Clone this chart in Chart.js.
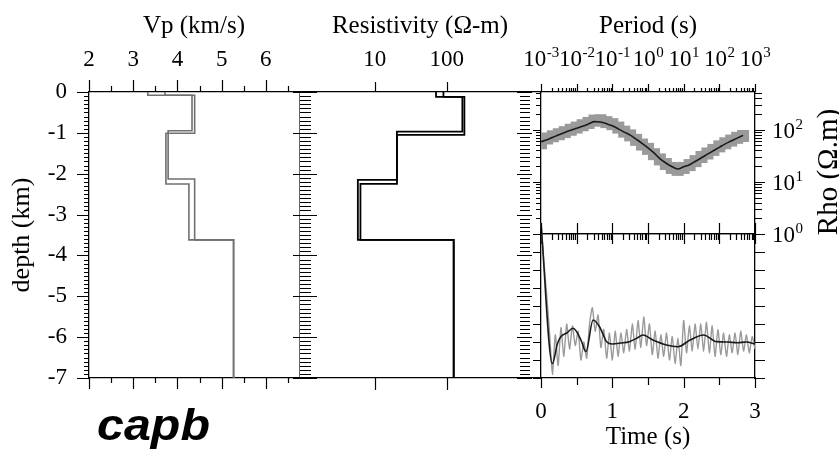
<!DOCTYPE html>
<html lang="en">
<head>
<meta charset="utf-8">
<title>capb</title>
<script src="https://cdn.jsdelivr.net/npm/chart.js@4.4.1/dist/chart.umd.min.js"></script>
<style>
  body { margin: 0; background: #fff; }
  #figura { position: relative; width: 839px; height: 450px; background: #fff; overflow: hidden; }
  #figura canvas { position: absolute; left: 0; top: 0; }
  #rotulo { position: absolute; left: 97px; top: 403px; font: italic bold 44px "Liberation Sans", Arial, sans-serif;
            line-height: 1; transform: scaleX(1.1); transform-origin: left top; color: #000; }
</style>
</head>
<body>
<div id="figura">
  <canvas id="graficoVp" width="839" height="450"></canvas>
  <canvas id="graficoRes" width="839" height="450"></canvas>
  <canvas id="graficoRho" width="839" height="450"></canvas>
  <canvas id="graficoRF" width="839" height="450"></canvas>
  <div id="rotulo">capb</div>
</div>
<script>
// ---- valores ----
// velocidade P (km/s) por camada e base da camada (km)
const vpModeloA = [3.33, 4.39, 3.74, 4.26, 5.27];
const vpBaseA   = [0.08, 1.01, 2.25, 3.62, 7];
const vpModeloB = [3.72, 4.33, 3.79, 4.39, 5.27];
const vpBaseB   = [0.08, 0.95, 2.13, 3.62, 7];

// resistividade (ohm-m) por camada
const resModeloA = [71, 176, 20.3, 6.3, 125];
const resBaseA   = [0.12, 1.05, 2.25, 3.62, 7];
const resModeloB = [90, 165, 20.3, 5.8, 125];
const resBaseB   = [0.12, 0.97, 2.15, 3.62, 7];
const rotulosRes = [10, 100];

// resistividade aparente x periodo
const periodos = [0.001, 0.00147, 0.00215, 0.00316, 0.00464, 0.00681, 0.01, 0.0147, 0.0215, 0.0316, 0.0464, 0.0681,
                  0.1, 0.147, 0.215, 0.316, 0.464, 0.681, 1, 1.47, 2.15, 3.16, 4.64, 6.81,
                  10, 14.7, 21.5, 31.6, 46.4, 68.1, 100, 147, 215, 316, 464];
const rhoObservado = [55, 68, 75, 82, 90, 100, 110, 122, 135, 150, 152, 140, 128, 110, 92, 78, 64, 52,
                      43, 34, 27, 22, 18.5, 17, 18.5, 21, 25, 30, 35, 41, 48, 55, 62, 70, 76];
const rhoModelo = [59, 64, 72, 80, 89, 98, 107, 117, 129, 143, 141, 131, 119, 104, 90, 79, 66, 55,
                   45, 36, 28, 23, 19.7, 17.7, 19.5, 21.4, 24.9, 29, 34, 39.6, 46, 53.6, 60.8, 69, 78];
const expoentesPeriodo = [-3, -2, -1, 0, 1, 2, 3];
const expoentesRho = [0, 1, 2];

// funcao do receptor
const tempoModelo = [0, 0.16, 0.23, 0.28, 0.36, 0.45, 0.56, 0.63, 0.73, 0.82, 0.92, 1.0, 1.12, 1.24, 1.34,
                     1.43, 1.57, 1.76, 1.92, 2.09, 2.28, 2.46, 2.62, 2.75, 2.88, 3.0];
const rfModelo = [0.66, -0.12, -0.01, 0.03, 0.05, 0.076, 0.011, -0.054, 0.122, 0.085, 0.002, -0.011, -0.006,
                  0.002, 0.02, 0.039, 0.011, -0.017, -0.026, 0.011, 0.039, 0.002, 0.0, -0.004, 0.0, -0.011];
const rfPasso = 0.04;
const rfObservado = [0.66, 0.45, 0.26, 0.05, -0.18, 0.04, -0.13, 0.08, -0.08, 0.1, -0.04, 0.09, -0.02, 0.06,
                     -0.1, 0.0, -0.09, 0.1, 0.19, 0.06, 0.15, -0.03, 0.07, -0.09, 0.05, -0.1, 0.06, -0.08,
                     0.05, -0.06, 0.07, -0.05, 0.1, -0.04, 0.12, -0.03, 0.14, -0.02, 0.1, -0.07, 0.06, -0.09,
                     0.04, -0.08, 0.05, -0.1, 0.03, -0.12, 0.02, -0.13, 0.12, -0.06, 0.09, -0.05, 0.1, -0.04,
                     0.1, -0.05, 0.11, -0.06, 0.09, -0.08, 0.07, -0.07, 0.05, -0.08, 0.04, -0.06, 0.05, -0.07,
                     0.06, -0.05, 0.04, -0.06, 0.03, -0.04];

// ---- auxiliares ----
Chart.defaults.font.family = '"Liberation Serif", "Times New Roman", serif';
Chart.defaults.color = '#000';

const fonteSerif = '"Liberation Serif", "Times New Roman", serif';
const tamRotulo = 23;

function degraus(valores, bases){
    const pontos = [];
    let topo = 0;
    valores.forEach((v, i) => {
        pontos.push({x: v, y: -topo});
        pontos.push({x: v, y: -bases[i]});
        topo = bases[i];
    });
    return pontos;
}

function passos(ini, fim, passo){
    const r = [];
    for(let v = ini; v <= fim + 1e-9; v += passo){
        r.push(+v.toFixed(4));
    }
    return r;
}

function menoresLog(e0, e1, max){
    const r = [];
    for(let e = e0; e < e1; e++){
        for(let m = 2; m <= 9; m++){
            const v = m * Math.pow(10, e);
            if(v <= max) r.push(v);
        }
    }
    return r;
}

function tamanho(px){
    return (escala) => {
        if(escala.isHorizontal()) escala.height = px;
        else escala.width = px;
    };
}

// eixo so com a linha de borda
function eixoVazio(extra){
    return Object.assign({
        ticks: {display: false},
        grid: {display: false},
        border: {color: '#000', width: 1.3}
    }, extra);
}

// marcas de escala desenhadas a partir das escalas do grafico
function tracos(lista){
    return {
        id: 'tracos',
        afterDraw(chart){
            const ctx = chart.ctx;
            const area = chart.chartArea;
            ctx.save();
            ctx.strokeStyle = '#000';
            ctx.lineWidth = 1.2;
            ctx.beginPath();
            lista.forEach(m => {
                const escala = chart.scales[m.escala];
                m.valores.forEach(v => {
                    const p = Math.round(escala.getPixelForValue(v)) + 0.5;
                    if(escala.isHorizontal()){
                        const base = m.lado === 'top' ? area.top : area.bottom;
                        ctx.moveTo(p, base + m.de);
                        ctx.lineTo(p, base + m.ate);
                    }else{
                        const base = m.lado === 'left' ? area.left : area.right;
                        ctx.moveTo(base + m.de, p);
                        ctx.lineTo(base + m.ate, p);
                    }
                });
            });
            ctx.stroke();
            ctx.restore();
        }
    };
}

function potencia(ctx, expoente, x, y, alinhar){
    ctx.font = tamRotulo + 'px ' + fonteSerif;
    const wBase = ctx.measureText('10').width;
    ctx.font = '15px ' + fonteSerif;
    const wExp = ctx.measureText(String(expoente)).width;
    let x0 = x;
    if(alinhar === 'center') x0 = x - (wBase + wExp) / 2;
    ctx.textAlign = 'left';
    ctx.textBaseline = 'alphabetic';
    ctx.font = tamRotulo + 'px ' + fonteSerif;
    ctx.fillText('10', x0, y);
    ctx.font = '15px ' + fonteSerif;
    ctx.fillText(String(expoente), x0 + wBase + 0.5, y - 9);
}

const rotulosLog = {
    id: 'rotulosLog',
    afterDraw(chart){
        const ctx = chart.ctx;
        const sx = chart.scales.x;
        const sy = chart.scales.y2;
        ctx.save();
        ctx.fillStyle = '#000';
        expoentesPeriodo.forEach(e => {
            potencia(ctx, e, sx.getPixelForValue(Math.pow(10, e)), 66, 'center');
        });
        expoentesRho.forEach(e => {
            potencia(ctx, e, chart.chartArea.right + 17, sy.getPixelForValue(Math.pow(10, e)) + 8, 'left');
        });
        ctx.translate(829, 172);
        ctx.rotate(-Math.PI / 2);
        ctx.textAlign = 'center';
        ctx.textBaseline = 'middle';
        ctx.font = '29px ' + fonteSerif;
        ctx.fillText('Rho (\u03A9.m)', 0, 0);
        ctx.restore();
    }
};

const base = {
    responsive: false,
    animation: false,
    devicePixelRatio: 1,
    layout: {padding: 0},
    plugins: {legend: {display: false}, tooltip: {enabled: false}}
};

const linha = (dados, cor, largura) => ({
    data: dados, showLine: true, borderColor: cor, borderWidth: largura,
    pointRadius: 0, fill: false
});

// ---- painel 1: Vp ----
const minVp = 2, maxVp = 6.75;
new Chart(document.getElementById('graficoVp'), {
    type: 'scatter',
    data: {
        datasets: [
            linha(degraus(vpModeloA, vpBaseA), '#707070', 1.6),
            linha(degraus(vpModeloB, vpBaseB), '#707070', 1.6)
        ]
    },
    options: Object.assign({}, base, {
        scales: {
            x: {
                type: 'linear', position: 'top', min: minVp, max: maxVp, afterFit: tamanho(92),
                ticks: {stepSize: 1, includeBounds: false, padding: 10, font: {size: tamRotulo}},
                grid: {display: false}, border: {color: '#000', width: 1.3},
                title: {display: true, text: 'Vp (km/s)', font: {size: 25}, padding: {top: 11, bottom: 0}}
            },
            x2: eixoVazio({type: 'linear', position: 'bottom', min: minVp, max: maxVp, afterFit: tamanho(72)}),
            y: {
                type: 'linear', position: 'left', min: -7, max: 0, afterFit: tamanho(89),
                ticks: {stepSize: 1, padding: 14, font: {size: tamRotulo}, callback: v => String(v)},
                grid: {display: false}, border: {color: '#000', width: 1.3},
                title: {display: true, text: 'depth (km)', font: {size: 26}, padding: {top: 7, bottom: 0}}
            },
            y2: eixoVazio({type: 'linear', position: 'right', min: -7, max: 0, afterFit: tamanho(540),
                border: {color: '#666', width: 1, dash: [2, 2]}})
        }
    }),
    plugins: [tracos([
        {escala: 'x', lado: 'top', valores: passos(2, 6, 1), de: 0, ate: -12},
        {escala: 'x', lado: 'top', valores: passos(2.5, 6.5, 1), de: 0, ate: -6},
        {escala: 'x2', lado: 'bottom', valores: passos(2, 6, 1), de: 0, ate: 11},
        {escala: 'x2', lado: 'bottom', valores: passos(2.5, 6.5, 1), de: 0, ate: 5},
        {escala: 'y', lado: 'left', valores: passos(-7, 0, 1), de: 0, ate: -12},
        {escala: 'y', lado: 'left', valores: passos(-7, 0, 0.1), de: 0, ate: -5}
    ])]
});

// ---- painel 2: resistividade ----
const minRes = 0.88, maxRes = 2050;
new Chart(document.getElementById('graficoRes'), {
    type: 'scatter',
    data: {
        datasets: [
            linha(degraus(resModeloA, resBaseA), '#000', 1.8),
            linha(degraus(resModeloB, resBaseB), '#000', 1.8)
        ]
    },
    options: Object.assign({}, base, {
        scales: {
            x: {
                type: 'logarithmic', position: 'top', min: minRes, max: maxRes, afterFit: tamanho(92),
                afterBuildTicks: (escala) => { escala.ticks = rotulosRes.map(v => ({value: v})); },
                ticks: {padding: 10, font: {size: tamRotulo}, callback: v => String(v)},
                grid: {display: false}, border: {color: '#000', width: 1.3},
                title: {display: true, text: 'Resistivity (\u03A9-m)', font: {size: 25}, padding: {top: 11, bottom: 0}}
            },
            x2: eixoVazio({type: 'logarithmic', position: 'bottom', min: minRes, max: maxRes, afterFit: tamanho(72)}),
            y: eixoVazio({type: 'linear', position: 'left', min: -7, max: 0, afterFit: tamanho(299),
                border: {display: false}}),
            y2: eixoVazio({type: 'linear', position: 'right', min: -7, max: 0, afterFit: tamanho(298),
                border: {display: false}})
        }
    }),
    plugins: [tracos([
        {escala: 'x', lado: 'top', valores: rotulosRes, de: 0, ate: -10},
        {escala: 'x2', lado: 'bottom', valores: rotulosRes, de: 0, ate: 12},
        {escala: 'y', lado: 'left', valores: passos(-7, 0, 1), de: -6, ate: 18},
        {escala: 'y', lado: 'left', valores: passos(-7, 0, 0.1), de: 1, ate: 12},
        {escala: 'y2', lado: 'right', valores: passos(-7, 0, 1), de: -24, ate: -9},
        {escala: 'y2', lado: 'right', valores: passos(-7, 0, 0.1), de: -21, ate: -11}
    ])]
});

// ---- painel 3: resistividade aparente ----
const decadas = expoentesPeriodo.map(e => Math.pow(10, e));
const minRho = 1, maxRho = 530;
new Chart(document.getElementById('graficoRho'), {
    type: 'scatter',
    data: {
        datasets: [
            Object.assign(linha(periodos.map((p, i) => ({x: p, y: rhoModelo[i]})), '#1a1a1a', 1.6),
                {tension: 0.4, cubicInterpolationMode: 'monotone'}),
            {
                data: periodos.map((p, i) => ({x: p, y: rhoObservado[i]})),
                pointStyle: 'rect', pointRadius: 8.5, pointBackgroundColor: '#9a9a9a',
                pointBorderWidth: 0, showLine: false
            }
        ]
    },
    options: Object.assign({}, base, {
        scales: {
            x: {
                type: 'logarithmic', position: 'top', min: 0.001, max: 1000, afterFit: tamanho(92),
                afterBuildTicks: (escala) => { escala.ticks = decadas.map(v => ({value: v})); },
                ticks: {display: false},
                grid: {display: false}, border: {color: '#000', width: 1.3},
                title: {display: true, text: 'Period (s)', font: {size: 25}, padding: {top: 11, bottom: 0}}
            },
            x2: eixoVazio({type: 'logarithmic', position: 'bottom', min: 0.001, max: 1000, afterFit: tamanho(216)}),
            y: eixoVazio({type: 'logarithmic', position: 'left', min: minRho, max: maxRho, afterFit: tamanho(541)}),
            y2: eixoVazio({type: 'logarithmic', position: 'right', min: minRho, max: maxRho, afterFit: tamanho(84)})
        }
    }),
    plugins: [rotulosLog, tracos([
        {escala: 'x', lado: 'top', valores: decadas, de: 0, ate: -8},
        {escala: 'x', lado: 'top', valores: menoresLog(-3, 3, 1000), de: 0, ate: -4},
        {escala: 'x2', lado: 'bottom', valores: decadas, de: 0, ate: 10},
        {escala: 'x2', lado: 'bottom', valores: menoresLog(-3, 3, 1000), de: 0, ate: 6},
        {escala: 'y', lado: 'left', valores: [1, 10, 100], de: 0, ate: -8},
        {escala: 'y', lado: 'left', valores: menoresLog(0, 3, maxRho), de: 0, ate: -5},
        {escala: 'y2', lado: 'right', valores: [1, 10, 100], de: 0, ate: 10},
        {escala: 'y2', lado: 'right', valores: menoresLog(0, 3, maxRho), de: 0, ate: 7}
    ])]
});

// ---- painel 4: funcao do receptor ----
new Chart(document.getElementById('graficoRF'), {
    type: 'scatter',
    data: {
        datasets: [
            Object.assign(linha(tempoModelo.map((t, i) => ({x: t, y: rfModelo[i]})), '#1a1a1a', 1.6),
                {cubicInterpolationMode: 'monotone', clip: false}),
            Object.assign(linha(rfObservado.map((v, i) => ({x: i * rfPasso, y: v})), '#9a9a9a', 1.4),
                {tension: 0.2, clip: false})
        ]
    },
    options: Object.assign({}, base, {
        scales: {
            x: {
                type: 'linear', position: 'bottom', min: 0, max: 3, afterFit: tamanho(72),
                ticks: {stepSize: 1, padding: 12, font: {size: tamRotulo}},
                grid: {display: false}, border: {color: '#000', width: 1.3},
                title: {display: true, text: 'Time (s)', font: {size: 25}, padding: {top: 0, bottom: -2}}
            },
            x2: eixoVazio({type: 'linear', position: 'top', min: 0, max: 3, afterFit: tamanho(234)}),
            y: eixoVazio({type: 'linear', position: 'left', min: -0.2, max: 0.6, afterFit: tamanho(541)}),
            y2: eixoVazio({type: 'linear', position: 'right', min: -0.2, max: 0.6, afterFit: tamanho(84)})
        }
    }),
    plugins: [tracos([
        {escala: 'x', lado: 'bottom', valores: passos(0, 3, 1), de: 0, ate: 10},
        {escala: 'x', lado: 'bottom', valores: passos(0.5, 2.5, 1), de: 0, ate: 7},
        {escala: 'x2', lado: 'top', valores: passos(0, 3, 0.5), de: 0, ate: -11},
        {escala: 'y', lado: 'left', valores: passos(-0.2, 0.6, 0.1), de: 0, ate: -8},
        {escala: 'y2', lado: 'right', valores: passos(-0.2, 0.6, 0.1), de: 0, ate: 10}
    ])]
});
</script>
</body>
</html>
